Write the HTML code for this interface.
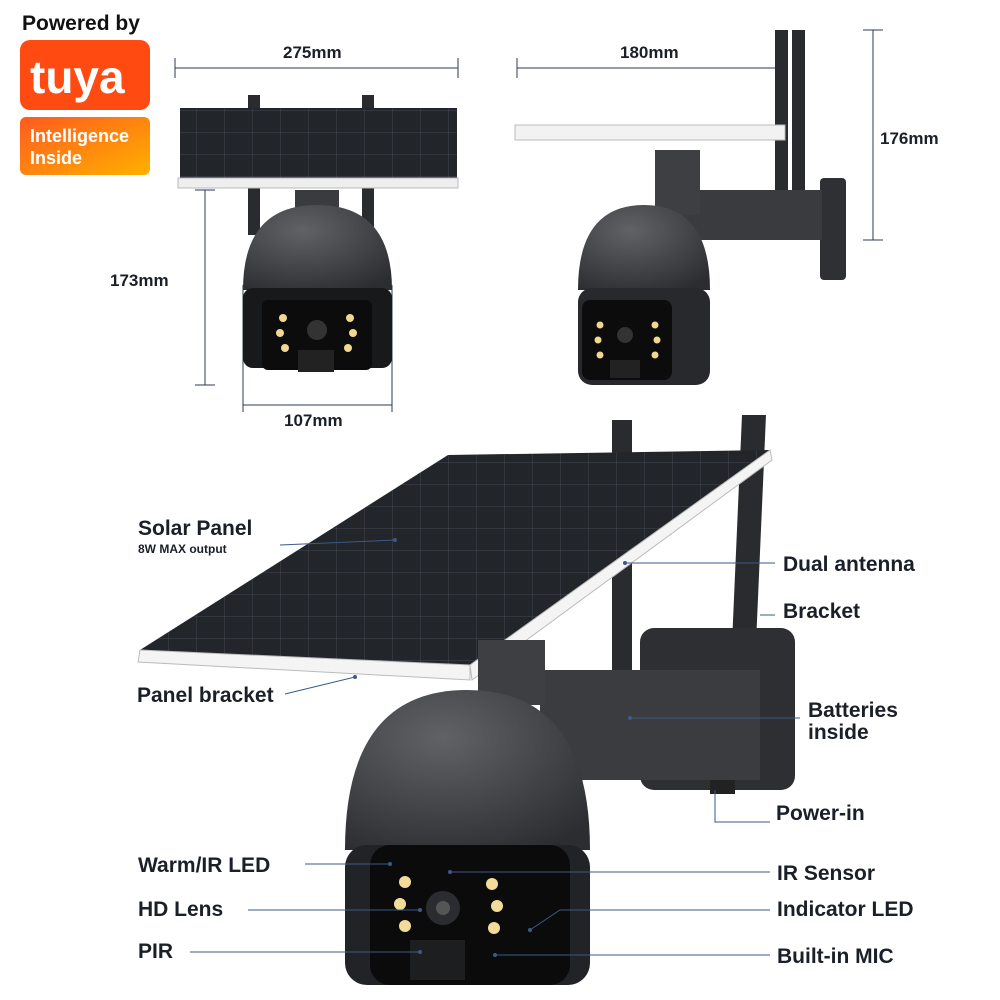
<!DOCTYPE html>
<html><head><meta charset="utf-8"><style>
body{margin:0;background:#fff;}
svg{display:block}
text{font-family:"Liberation Sans",sans-serif;font-weight:bold;fill:#1a1f28}
</style></head><body>
<svg width="1000" height="1000" viewBox="0 0 1000 1000" xmlns="http://www.w3.org/2000/svg">
<defs>
<linearGradient id="og" x1="0" y1="0" x2="1" y2="1"><stop offset="0" stop-color="#ff5a1f"/><stop offset="1" stop-color="#ffb000"/></linearGradient>
<radialGradient id="dome" cx="0.4" cy="0.3" r="0.8"><stop offset="0" stop-color="#606266"/><stop offset="1" stop-color="#2c2d30"/></radialGradient>
<pattern id="cells" width="28" height="22" patternUnits="userSpaceOnUse"><rect width="28" height="22" fill="#22252a"/><path d="M0 0H28M0 0V22" stroke="#444851" stroke-width="1"/></pattern>
</defs>
<!-- tuya -->
<text x="22" y="30" font-size="21" style="fill:#111">Powered by</text>
<rect x="20" y="40" width="130" height="70" rx="10" fill="#ff4a12"/>
<text x="30" y="93" font-size="46" style="fill:#fff">tuya</text>
<rect x="20" y="117" width="130" height="58" rx="6" fill="url(#og)"/>
<text x="30" y="142" font-size="18" style="fill:#fff">Intelligence</text>
<text x="30" y="164" font-size="18" style="fill:#fff">Inside</text>

<g stroke="#2b3a55" stroke-width="1" fill="none">
<path d="M175 68H458M175 58V78M458 58V78"/>
<path d="M205 190V385M195 190H215M195 385H215"/>
<path d="M243 405H392M243 285V412M392 285V412"/>
<path d="M517 68H785M517 58V78M785 58V78"/>
<path d="M873 30V240M863 30H883M863 240H883"/>
</g>
<text x="283" y="58" font-size="17">275mm</text>
<text x="110" y="286" font-size="17">173mm</text>
<text x="284" y="426" font-size="17">107mm</text>
<text x="620" y="58" font-size="17">180mm</text>
<text x="880" y="144" font-size="17">176mm</text>

<rect x="248" y="95" width="12" height="140" fill="#2a2b2e"/>
<rect x="362" y="95" width="12" height="140" fill="#2a2b2e"/>
<rect x="180" y="108" width="277" height="72" fill="url(#cells)"/>
<rect x="178" y="178" width="280" height="10" fill="#eee" stroke="#bbb"/>
<rect x="295" y="190" width="44" height="25" fill="#3a3b3f"/>
<path d="M243 290 Q243 205 317 205 Q392 205 392 290 Z" fill="url(#dome)"/>
<rect x="243" y="288" width="149" height="80" rx="10" fill="#18191b"/>
<rect x="262" y="300" width="110" height="70" rx="6" fill="#0c0c0d"/>
<circle cx="317" cy="330" r="10" fill="#333"/>
<g fill="#f0d890"><circle cx="283" cy="318" r="4"/><circle cx="280" cy="333" r="4"/><circle cx="285" cy="348" r="4"/><circle cx="350" cy="318" r="4"/><circle cx="353" cy="333" r="4"/><circle cx="348" cy="348" r="4"/></g>
<rect x="298" y="350" width="36" height="22" fill="#222"/>

<rect x="775" y="30" width="13" height="210" fill="#2a2b2e"/>
<rect x="792" y="30" width="13" height="210" fill="#2a2b2e"/>
<rect x="515" y="125" width="270" height="15" fill="#f2f2f2" stroke="#bbb"/>
<rect x="820" y="178" width="26" height="102" rx="4" fill="#2f3034"/>
<rect x="680" y="190" width="142" height="50" fill="#3a3b3f"/>
<rect x="655" y="150" width="45" height="65" fill="#3e3f43"/>
<path d="M578 290 Q578 205 644 205 Q710 205 710 290 Z" fill="url(#dome)"/>
<rect x="578" y="288" width="132" height="97" rx="14" fill="#28292c"/>
<rect x="582" y="300" width="90" height="80" rx="8" fill="#0c0c0d"/>
<circle cx="625" cy="335" r="8" fill="#333"/>
<g fill="#f0d890"><circle cx="600" cy="325" r="3.5"/><circle cx="598" cy="340" r="3.5"/><circle cx="600" cy="355" r="3.5"/><circle cx="655" cy="325" r="3.5"/><circle cx="657" cy="340" r="3.5"/><circle cx="655" cy="355" r="3.5"/></g>
<rect x="610" y="360" width="30" height="18" fill="#222"/>

<!-- bottom big -->
<polygon points="612,420 632,420 632,690 612,690" fill="#2a2b2e"/>
<polygon points="742,415 766,415 752,735 728,735" fill="#2a2b2e"/>
<polygon points="448,455 770,450 470,665 140,650" fill="url(#cells)"/>
<polygon points="140,650 470,665 470,680 138,662" fill="#f4f4f4" stroke="#bbb"/>
<polygon points="770,450 772,460 472,680 470,665" fill="#f4f4f4" stroke="#bbb"/>
<rect x="640" y="628" width="155" height="162" rx="14" fill="#2e2f33"/>
<rect x="540" y="670" width="220" height="110" fill="#3b3c40"/>
<rect x="478" y="640" width="67" height="65" fill="#3e3f43"/>
<rect x="710" y="780" width="25" height="14" fill="#222"/>
<path d="M345 850 Q345 690 467 690 Q590 690 590 850 Z" fill="url(#dome)"/>
<rect x="345" y="845" width="245" height="140" rx="22" fill="#222326"/>
<rect x="370" y="845" width="200" height="140" rx="20" fill="#0b0b0c"/>
<circle cx="443" cy="908" r="17" fill="#2a2c30"/><circle cx="443" cy="908" r="7" fill="#555"/>
<g fill="#f3dc9a"><circle cx="405" cy="882" r="6"/><circle cx="400" cy="904" r="6"/><circle cx="405" cy="926" r="6"/><circle cx="492" cy="884" r="6"/><circle cx="497" cy="906" r="6"/><circle cx="494" cy="928" r="6"/></g>
<rect x="410" y="940" width="55" height="40" fill="#1d1e20"/>

<!-- label lines -->
<g stroke="#3b5a85" stroke-width="1" fill="none">
<path d="M280 545L395 540"/>
<path d="M625 563H775"/>
<path d="M760 615H775"/>
<path d="M355 677L285 694"/>
<path d="M630 718H800"/>
<path d="M715 790V822H770"/>
<path d="M305 864H390"/>
<path d="M248 910H420"/>
<path d="M190 952H420"/>
<path d="M450 872H770"/>
<path d="M530 930L560 910H770"/>
<path d="M495 955H770"/>
</g>
<g fill="#3b5a85"><circle cx="395" cy="540" r="2"/><circle cx="625" cy="563" r="2"/><circle cx="355" cy="677" r="2"/><circle cx="630" cy="718" r="2"/><circle cx="390" cy="864" r="2"/><circle cx="420" cy="910" r="2"/><circle cx="420" cy="952" r="2"/><circle cx="450" cy="872" r="2"/><circle cx="530" cy="930" r="2"/><circle cx="495" cy="955" r="2"/></g>
<text x="138" y="535" font-size="21">Solar Panel</text>
<text x="138" y="553" font-size="12">8W MAX output</text>
<text x="783" y="571" font-size="21">Dual antenna</text>
<text x="783" y="618" font-size="21">Bracket</text>
<text x="137" y="702" font-size="21">Panel bracket</text>
<text x="808" y="717" font-size="21">Batteries</text>
<text x="808" y="739" font-size="21">inside</text>
<text x="776" y="820" font-size="21">Power-in</text>
<text x="138" y="872" font-size="21">Warm/IR LED</text>
<text x="138" y="916" font-size="21">HD Lens</text>
<text x="138" y="958" font-size="21">PIR</text>
<text x="777" y="880" font-size="21">IR Sensor</text>
<text x="777" y="916" font-size="21">Indicator LED</text>
<text x="777" y="963" font-size="21">Built-in MIC</text>
</svg>
</body></html>
